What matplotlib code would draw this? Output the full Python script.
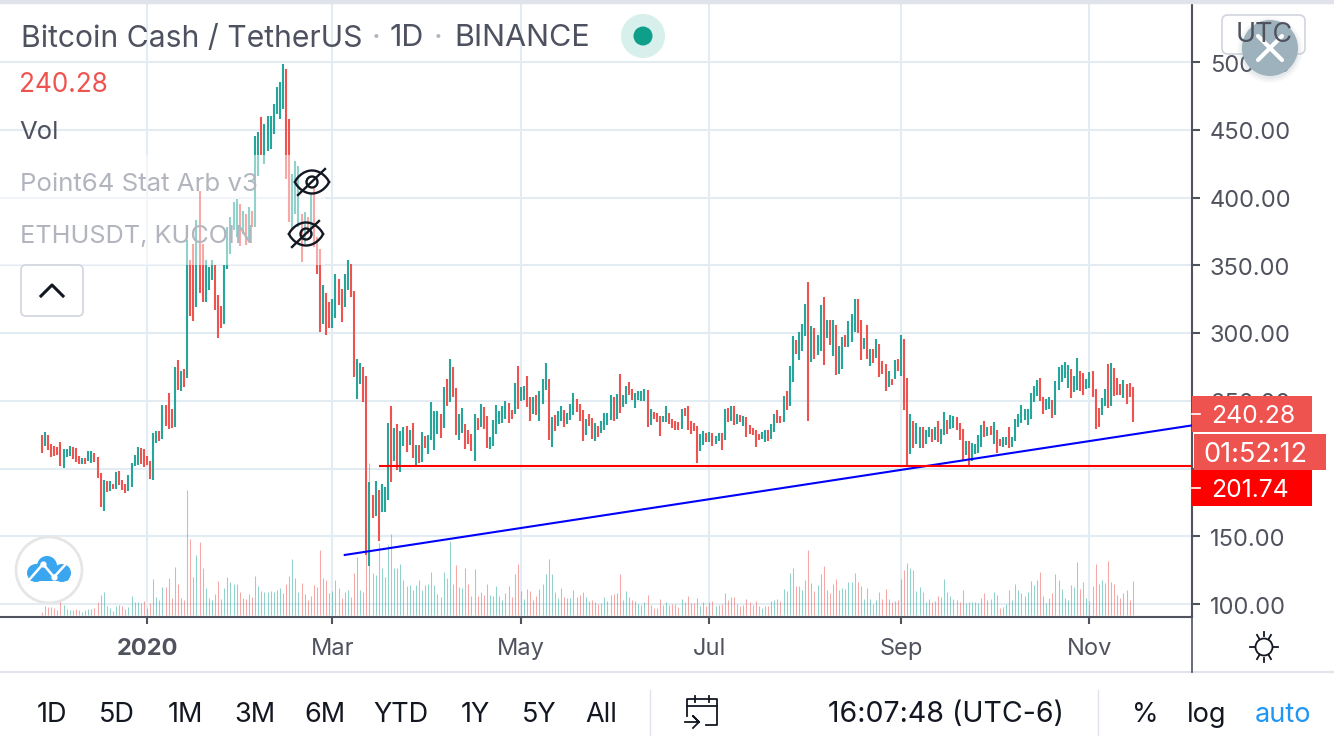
import numpy as np
import pandas as pd
import matplotlib
matplotlib.use('Agg')
import matplotlib.pyplot as plt
import matplotlib.dates as mdates
from matplotlib.patches import Circle, FancyBboxPatch, Rectangle
from matplotlib.transforms import ScaledTranslation

# daily bars, 28 Nov 2019 onwards
bar_top = [
    224.8,227,224.8,218.1,216.7,215.9,219.6,214.5,214.5,216.7,
    215.9,215.2,209.3,207.8,207.8,213,213,211.5,208.6,196.8,
    191.7,190.9,190.9,188.7,197.5,198.3,191.7,188.7,195.3,204.2,
    210,215.9,215.2,214.5,209.3,205.6,226.2,227.7,227.7,246.8,
    246.8,255.6,243.9,274.8,279.9,271.8,273.3,368.4,353.7,365.9,
    383.6,404.7,366,353.7,348.8,353.7,350,328,319.9,350,
    378,385.5,396.6,399,394.9,390.4,387.5,392.9,390,445.6,
    448.5,459.6,454.2,460.3,460.3,468.9,481.6,485.5,498.3,494.6,
    457.8,417.4,427.2,423.5,388,389,385.5,402.7,407.6,370.8,
    362.3,335.3,329.2,323,325,343.4,339.7,332.4,343.4,353.7,
    351.2,331,280.6,277.5,274.8,268.1,190.2,180.6,190.9,184.3,
    188.7,186.5,233.6,246.1,229.9,232.8,227.7,230.6,231.4,228.4,
    233.6,217.4,217.4,227,224,224.8,249,242.4,242.4,240.2,
    260,265.9,280.6,275.2,259.7,240.3,244.8,232.9,228.5,225.5,
    240.3,237.4,247.8,245.5,238.9,223.3,235.9,247,242.6,246.3,
    250,248.5,243.3,263.4,276,260.4,261.1,268.6,253,253,
    254.5,257.4,266.3,278.2,266.3,238.1,239.6,242.6,246.3,243.3,
    241.1,247.8,255.9,251.5,247.8,243.3,236.6,240.3,237.4,233.7,
    231.4,235.1,241.1,241.1,254.5,253,255.2,270,254.5,261.1,
    264.1,258.9,255.9,257.4,257.4,258.9,258.2,244.1,241.8,241.1,
    238.9,238.9,246.3,241.1,236.6,235.1,234.4,244.1,244.8,246.3,
    235.1,233.7,231.4,225.5,227.7,226.2,227,226.2,224,226.2,
    226.2,244.1,244.8,246.3,246.3,240.3,239.6,238.9,238.1,232.2,
    230,228.5,225.5,227,228.5,228.5,232.9,240.3,243.3,238.9,
    253.7,257.4,275.5,297.5,294.6,300.5,306.4,321.1,338,304.9,
    303.4,298.3,320.3,326.2,309.3,309.3,309.3,305.6,290.2,296.8,
    298.3,308.6,313.7,324.8,324.8,309.3,296.1,305.6,288,288,
    295.3,291.7,279.2,277,271.8,265.7,279.9,280.6,298.3,295.3,
    266.7,240.2,235,233.6,230.6,230.6,228.4,230.6,229.2,230.6,
    235,229.2,241.7,235.8,239.5,238.7,238,233.6,229.2,220.3,
    220.3,218.9,218.1,224.8,232.1,235,230.6,231.4,234.3,228.4,
    221.8,223.3,223.3,230.6,223.3,236.5,240.2,246.8,243.9,243.9,
    255.6,260.8,265.2,266.7,252.7,251.2,252.7,250.5,264.5,274.8,
    276.2,278.4,276.2,273.3,268.1,281.4,271.8,270.3,265.9,271.1,
    271.8,258.6,244.6,252,258.6,277,277.7,274,266.7,262.3,
    265.2,262.3,263,260]

bar_bottom = [
    211.5,216.7,213.7,208.6,209.3,210,202,200.5,208.6,209.3,
    207.1,204.9,203.4,203.4,203.4,205.6,204.2,204.9,193.1,171.8,
    168.9,182.8,183.6,185,185,188,184.3,182,183.6,186.5,
    202,202.7,203.4,201.2,202.7,192.4,191.7,218.9,220.3,221.8,
    231.4,229.2,229.9,230.6,257.8,257.1,260,266.7,312.5,308.8,
    319.4,329.2,323,323,331.6,339,316.9,296.6,303.4,307,
    347.6,358.6,375.7,370.8,364,373,364.7,367.2,378,378,
    416.2,431.6,424.8,434.6,435.8,446.8,461.5,457.6,465.2,413.7,
    381.9,377,388,378,352.5,366,373,373,363.5,343.9,
    300.7,306.7,298.3,304,303.4,310.8,320.6,308.3,319.4,331.6,
    326.7,267.6,251.2,262.3,249.3,135.8,128.4,163.7,165.2,146.8,
    168.1,168.1,177,190.2,205.6,199,197.5,216.7,212.3,217.4,
    207.8,201.2,204.2,204.9,215.2,210.8,221.1,213.7,225.5,222.5,
    229.9,246.1,249,253,224.8,221,226.2,214.4,218.1,212.9,
    205.4,228.5,230.7,229.2,215.1,214.4,216.6,225.5,232.9,233.7,
    236.6,233.7,236.6,240.3,244,250,250.7,245.5,235.1,240.3,
    239.6,235.1,247.8,258.2,221,215.8,227.7,231.4,235.1,230.7,
    232.9,235.9,239.6,241.8,235.1,220.3,224.8,231.4,221.8,220.3,
    223.3,226.2,228.5,232.2,235.9,235.1,236.6,241.1,245.5,247.8,
    254.5,250.7,244.8,250.7,250,250,230.7,232.2,236.6,234.4,
    224,234.4,234.4,232.9,230,228.5,228.5,229.2,238.9,228.5,
    225.5,227.7,204,212.9,217.3,219.6,219.6,216.6,218.1,220.3,
    213.6,221,234.4,235.1,232.2,232.9,234.4,231.4,223.3,225.5,
    224.8,215.8,221,221.8,219.6,220.3,221.8,227,233.7,233.7,
    234.4,243.3,246.1,263.7,284.3,279.9,286.5,297.5,235,278.4,
    280.6,283.6,286.5,276.2,296.1,290.9,282.8,268.9,269.6,273.3,
    289.5,289.5,293.1,300.5,299.8,279.9,288,280.6,275.5,277.7,
    281.4,267.4,269.6,257.1,260,261.5,265.9,271.8,268.1,243.1,
    202,210.8,215.2,218.1,215.2,215.2,218.1,223.3,219.6,221.1,
    219.6,218.1,224.8,225.5,229.2,229.9,228.4,221.1,206.4,210,
    202.7,205.6,210.8,211.5,215.9,223.3,224,224.8,218.1,211.5,
    216.7,215.9,217.4,215.2,215.9,220.3,230.6,233.6,235.8,232.1,
    236.5,249,253.4,249.8,240.2,243.1,243.9,237.3,239.5,257.8,
    263.7,266.7,259.3,252,256.4,257.8,257.1,254.2,258.6,259.3,
    252.7,229.2,230.6,239.5,246.1,244.6,246.1,253.4,254.2,254.2,
    252,247.5,252.7,234.3]

# g = up day, r = down day
bar_dir = ("rgrrrrrggg" "rrrgrggrrr" "grgrgrrrgg" "ggrrrrggrg" "rrrgrgrgrr"
           "grrgggrrrg" "ggggrgrgrg" "grgggggggr" "rgggrgrgrr" "rgrrggrrgg"
           "rrggrrgrgr" "gggrgrggrg" "rgrgrggggr" "grgrrggrrr" "grgrrggggg"
           "grrgrggrrg" "rgggrgrggr" "gggrrrgrrg" "rggggrgrgg" "rrggggrgrr"
           "rggrrrrgrr" "rrrggrgrgg" "rgrgrgrgrr" "rrrggrggrr" "grggrgggrg"
           "rggrgrgrgg" "rgggrrgrgr" "grrrgrgrgr" "rgrggrggrg" "rggrggrrrg"
           "rggggrgrgr" "rggrgggggg" "gggrrggrgg" "gggrggrrgg" "rrrggrgrrr"
           "grrr")

volume = [
    9,27,24,24,21,15,45,30,18,15,
    15,18,15,9,15,18,18,21,39,60,
    69,27,21,12,27,30,27,18,24,57,
    39,39,36,42,21,36,108,54,45,84,
    84,111,51,144,93,51,45,375,228,114,
    180,219,141,81,51,45,63,102,48,81,
    114,99,93,93,69,51,48,63,54,117,
    87,72,69,69,72,69,75,81,66,93,
    117,168,111,69,96,63,45,57,90,84,
    195,111,105,66,72,105,81,51,69,75,
    54,126,174,75,69,195,456,126,120,216,
    141,114,210,243,141,141,153,105,87,90,
    75,90,105,75,90,93,129,90,63,54,
    129,111,222,93,150,84,81,141,93,57,
    138,57,69,60,93,60,57,87,57,45,
    66,87,54,123,153,72,48,78,72,45,
    57,78,93,123,168,123,69,51,81,54,
    51,51,75,54,60,69,54,42,45,39,
    33,36,54,42,60,63,66,123,45,72,
    54,45,42,33,30,39,60,30,21,21,
    48,30,39,30,33,33,24,48,39,57,
    36,36,51,27,39,27,39,42,27,30,
    33,66,45,54,54,33,27,30,48,39,
    30,42,27,21,27,27,42,45,48,42,
    78,72,126,141,87,87,75,105,195,96,
    72,90,123,147,75,66,93,108,75,81,
    78,99,99,126,99,87,48,81,48,33,
    45,69,48,78,48,39,42,45,108,135,
    156,141,135,72,84,69,39,48,39,42,
    57,54,108,69,57,48,45,39,75,36,
    39,39,39,36,51,66,45,48,69,60,
    21,24,33,75,45,93,75,66,57,69,
    102,90,105,129,57,36,51,66,123,105,
    78,51,45,90,84,159,78,99,51,42,
    87,153,93,105,96,162,99,93,60,51,
    66,75,45,102]

price_ticks = [100, 150, 200, 250, 300, 350, 400, 450, 500]
date_ticks = ['2020-01-01', '2020-03-01', '2020-05-01', '2020-07-01', '2020-09-01', '2020-11-01']
date_labels = ['2020', 'Mar', 'May', 'Jul', 'Sep', 'Nov']
ranges = ['1D', '5D', '1M', '3M', '6M', 'YTD', '1Y', '5Y', 'All']

trend_dates = ['2020-03-05', '2020-12-05']
trend_prices = [136.2, 232.1]
support_start = '2020-03-16'
support_price = 201.74
last_price = 240.28

RED = '#EF5350'
GREEN = '#26A69A'
GRID = '#E3ECF3'
AXIS = '#50535E'
DARK = '#131722'
FONT = 'Inter'

plt.rcParams['font.family'] = [FONT, 'DejaVu Sans']

fig = plt.figure(figsize=(13.34, 7.5), dpi=100)
ax = fig.add_axes([0, 133 / 750, 1192 / 1334, 614 / 750])

dates = pd.date_range('2019-11-28', periods=len(bar_top))
colors = [GREEN if c == 'g' else RED for c in bar_dir]

# price scale: 1.355 px per USDT, 3.09 px per day
jan1 = mdates.date2num(pd.Timestamp('2020-01-01'))
ax.set_xlim(jan1 - 147 / 3.09, jan1 + 1045 / 3.09)
ax.set_ylim(100 - 13 / 1.355, 100 + 601 / 1.355)

# volume sits on the same axes, scaled down to the bottom of the pane
vol_base = 100 - 11 / 1.355
vol_scale = 1 / 3 / 1.355
ax.vlines(dates, vol_base, vol_base + np.array(volume) * vol_scale, colors=colors,
          linewidth=0.75, alpha=0.5, zorder=2)
ax.vlines(dates, bar_bottom, bar_top, colors=colors, linewidth=1.5, zorder=3)

ax.plot(pd.to_datetime(trend_dates), trend_prices, color='#0000FF', lw=1.5, zorder=4)
ax.plot([pd.Timestamp(support_start), pd.Timestamp('2020-12-05')], [support_price] * 2,
        color='#FF0000', lw=1.5, zorder=4, solid_capstyle='butt')

ax.grid(True, color=GRID, lw=1.5)
ax.set_axisbelow(True)
ax.yaxis.tick_right()
ax.set_yticks(price_ticks)
# 200.00 is fully behind the price tags
ax.set_yticklabels(['' if p == 200 else '%.2f' % p for p in price_ticks])
ax.set_xticks(pd.to_datetime(date_ticks))
ax.set_xticklabels(date_labels)
ax.get_xticklabels()[0].set_fontweight('bold')
ax.tick_params(axis='y', length=5.8, width=1.5, color=AXIS, labelcolor=AXIS, labelsize=17, pad=7)
ax.tick_params(axis='x', length=5, width=1.5, color=AXIS, labelcolor=AXIS, labelsize=17, pad=10)
nudge = ScaledTranslation(0, -1 / 100, fig.dpi_scale_trans)
for t in ax.get_yticklabels():
    t.set_transform(t.get_transform() + nudge)
for s in ['top', 'left']:
    ax.spines[s].set_visible(False)
for s in ['right', 'bottom']:
    ax.spines[s].set_color(AXIS)
    ax.spines[s].set_linewidth(1.5)

# everything around the chart is laid out in screen pixels
ui = fig.add_axes([0, 0, 1, 1], zorder=10)
ui.set_xlim(0, 1334)
ui.set_ylim(750, 0)
ui.axis('off')
ui.patch.set_alpha(0)


def label(x, y, s, size=16, color=DARK, ha='left', **kw):
    # Inter sits a little high when centred
    ui.text(x, y + 2.5, s, fontsize=size, color=color, ha=ha, va='center', **kw)


def eye(x, y):
    t = np.linspace(-1, 1, 40)
    ui.plot(x + 17 * t, y - 11.5 * (1 - t ** 2) ** 0.8, color=DARK, lw=1.7)
    ui.plot(x + 17 * t, y + 11.5 * (1 - t ** 2) ** 0.8, color=DARK, lw=1.7)
    ui.add_patch(Circle((x, y), 5.5, fill=False, ec=DARK, lw=1.7))
    ui.plot([x - 14, x + 13], [y + 13, y - 13], color=DARK, lw=1.7)


# top strip and toolbar separators
ui.add_patch(Rectangle((0, 0), 1334, 3, color='#E0E3EB'))
ui.plot([0, 1334], [672, 672], color='#E0E3EB', lw=1.5)
ui.plot([1192, 1192], [617, 672], color=AXIS, lw=1.2)
ui.plot([650, 650], [690, 735], color='#E0E3EB', lw=1)
ui.plot([1098, 1098], [690, 735], color='#E0E3EB', lw=1)

# legend block washes out what is under it
ui.add_patch(Rectangle((0, 155), 325, 110, color='white', alpha=0.5, lw=0))
label(21, 36, 'Bitcoin Cash / TetherUS', 21.7, '#4E5260')
label(372, 36, '·', 22, '#B2B5BE')
label(390, 36, '1D', 22, '#4E5260')
label(434, 36, '·', 22, '#B2B5BE')
label(454, 36, 'BINANCE', 22, '#4E5260')
ui.add_patch(Circle((643, 36), 22, color='#D7F0EC', lw=0))
ui.add_patch(Circle((643, 36), 9.5, color='#0E9F8A', lw=0))
label(19, 82, '%.2f' % last_price, 18.8, RED)
label(19, 130, 'Vol', 18.5, '#4E5260')
label(20, 182, 'Point64 Stat Arb v3', 18.6, '#B2B5BE')
label(20, 234, 'ETHUSDT, KUCOIN', 18.2, '#B2B5BE')
eye(312, 182)
eye(306, 234)
ui.add_patch(FancyBboxPatch((24, 268), 56, 45, boxstyle='round,pad=3,rounding_size=5',
                            fc='white', ec='#D1D4DC', lw=1.2))
ui.plot([41, 52, 63], [296, 285, 296], color=DARK, lw=2.2)

# logo
ui.add_patch(Circle((49, 570), 33, fc='white', ec='#E6E6E6', lw=2))
for cx, cy, r in [(36, 573, 9), (47, 566, 10), (62, 573, 9)]:
    ui.add_patch(Circle((cx, cy), r, color='#3BA6F0', lw=0))
ui.add_patch(FancyBboxPatch((30, 571), 38, 9, boxstyle='round,pad=1,rounding_size=3', color='#3BA6F0', lw=0))
ui.plot([29, 43, 54, 65], [580, 564, 577, 565], color='white', lw=1.8)
ui.plot([43, 54], [564, 577], 'o', color='white', ms=3.5)

# price tags on the axis
ui.add_patch(Rectangle((1192, 396), 120, 36, color=RED, lw=0))
ui.add_patch(Rectangle((1194, 434), 132, 36, color=RED, lw=0))
ui.add_patch(Rectangle((1192, 470), 120, 36, color='#FF0000', lw=0))
ui.plot([1192, 1200], [414, 414], color='white', lw=1.2)
ui.plot([1192, 1200], [488, 488], color='white', lw=1.2)
label(1211, 414, '240.28', 17.8, 'white')
label(1203, 452, '01:52:12', 19.5, 'white')
label(1211, 488, '201.74', 17.8, 'white')

# UTC button with the close button floating on top
ui.add_patch(FancyBboxPatch((1225, 18), 77, 33, boxstyle='round,pad=3,rounding_size=6',
                            fill=False, ec='#D1D4DC', lw=1.2))
label(1264, 33, 'UTC', 19.5, AXIS, ha='center')
for r, a in [(33, 0.05), (31, 0.07), (29, 0.1)]:
    ui.add_patch(Circle((1270, 50), r, color='#8A9AA5', alpha=a, lw=0))
ui.add_patch(Circle((1270, 48), 28, color='#9DB2BD', lw=0))
ui.plot([1258, 1282], [36, 60], color='white', lw=3, solid_capstyle='round')
ui.plot([1258, 1282], [60, 36], color='white', lw=3, solid_capstyle='round')

# sun icon
ui.add_patch(Circle((1264, 647), 8.5, fill=False, ec=DARK, lw=1.3))
for a in np.deg2rad(np.arange(0, 360, 60) + 30):
    ui.plot([1264 + 9 * np.sin(a), 1264 + 14 * np.sin(a)], [647 + 9 * np.cos(a), 647 + 14 * np.cos(a)],
            color=DARK, lw=1.3)
ui.plot([1264, 1264], [632, 636], color=DARK, lw=1.3)
ui.plot([1264, 1264], [658, 662], color=DARK, lw=1.3)

# bottom toolbar
for name, x in zip(ranges, [52, 117, 185, 255, 325, 401, 475, 539, 601]):
    label(x, 712, name, 19.5, DARK, ha='center')
label(946, 712, '16:07:48 (UTC-6)', 20.5, DARK, ha='center')
label(1145, 712, '%', 19.5, DARK, ha='center')
label(1207, 712, 'log', 19.5, DARK, ha='center')
label(1283, 712, 'auto', 19.5, '#2196F3', ha='center')

# calendar icon
ui.plot([687, 687, 717, 717, 706], [716, 699, 699, 725, 725], color=DARK, lw=1.3)
ui.plot([687, 717], [706, 706], color=DARK, lw=1.3)
ui.plot([695, 695], [696, 702], color=DARK, lw=1.3)
ui.plot([709, 709], [696, 702], color=DARK, lw=1.3)
ui.plot([685, 699, 693, 699, 693], [722, 722, 716, 722, 728], color=DARK, lw=1.3)

plt.savefig('out.png', dpi=100)
